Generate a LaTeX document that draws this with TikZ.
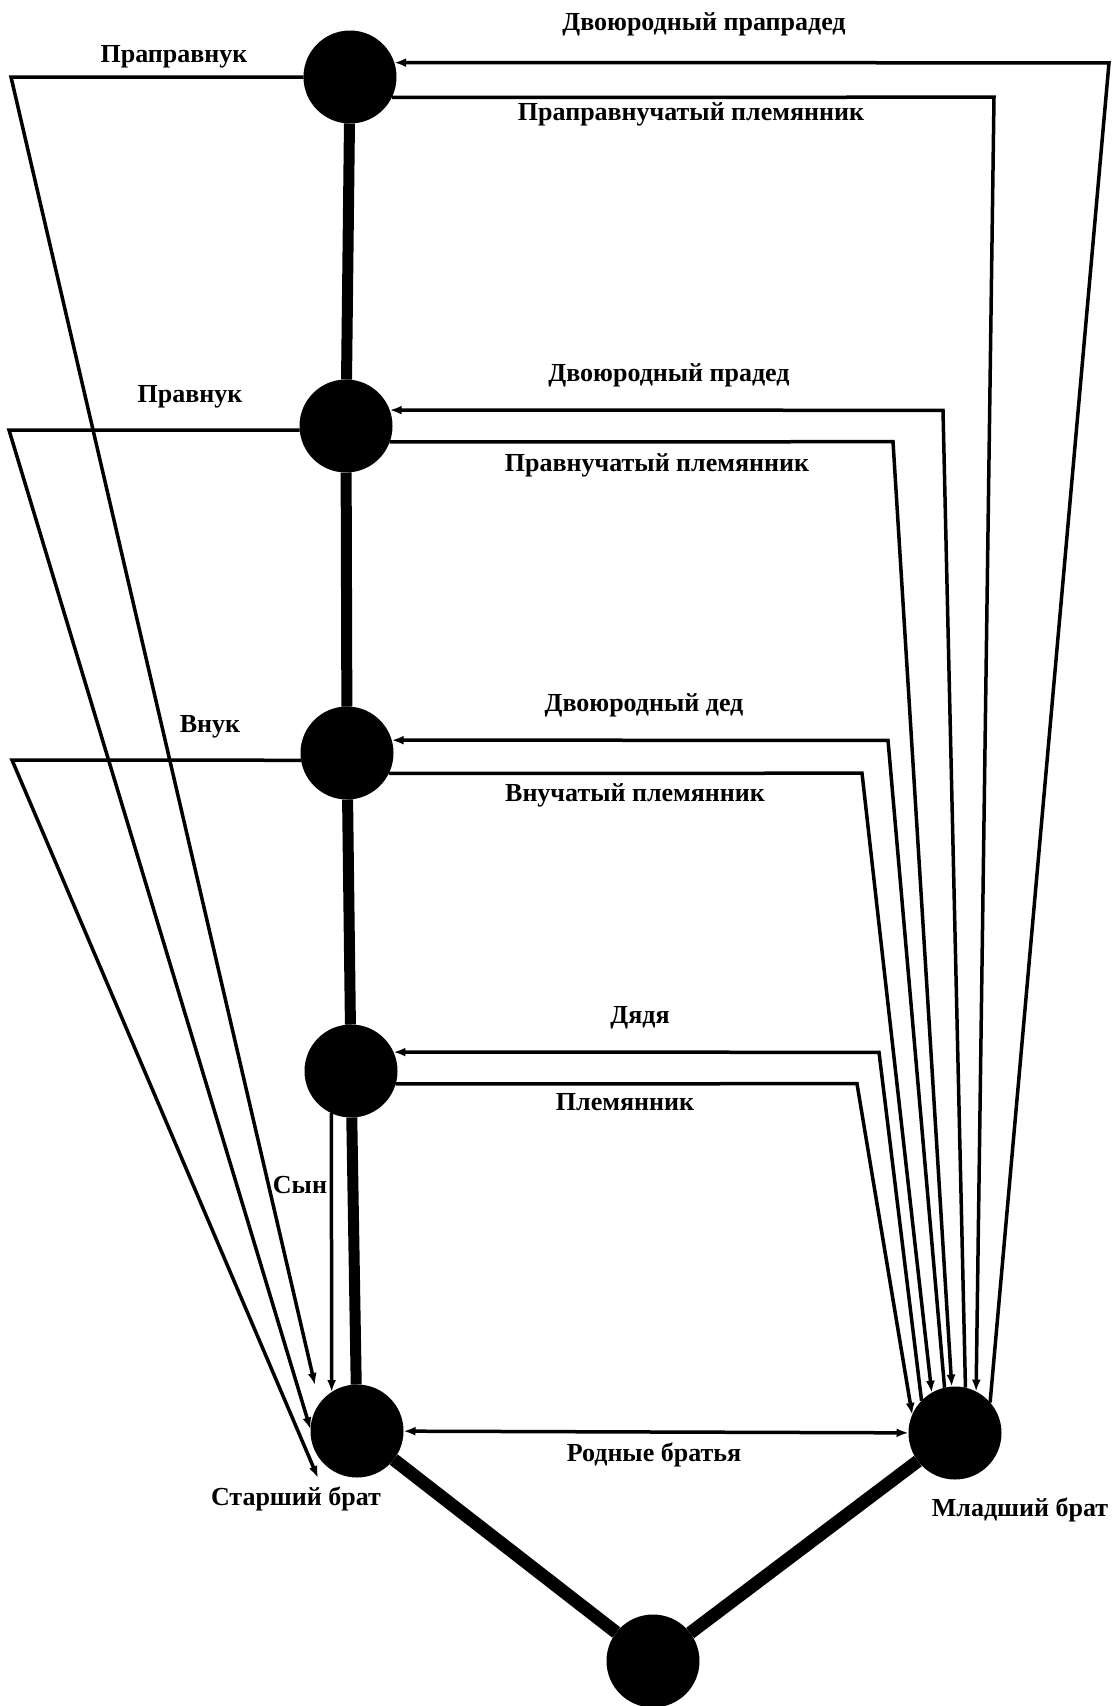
\documentclass[tikz,border=0pt]{standalone}
\usepackage{fontspec}
\setmainfont{Liberation Serif}
\usetikzlibrary{arrows.meta}
\tikzset{
	dot/.style={circle,fill,inner sep=0pt,outer sep=0pt,minimum size=93pt},
	rel/.style={line width=3.5pt},
	tip/.style={-{Latex[length=12pt,width=9pt]}},
	trunk/.style={line width=11pt},
	lbl/.style={font=\bfseries\fontsize{26}{31}\selectfont,inner sep=0pt}
}

\begin{document}
\begin{tikzpicture}[x=1pt,y=-1pt]
	\useasboundingbox (0,0) rectangle (1117,1706);

	% generations
	\node [dot] (pp) at (350,77) {};
	\node [dot] (pr) at (346,426) {};
	\node [dot] (vn) at (347,753) {};
	\node [dot] (syn) at (351,1071) {};
	\node [dot] (st) at (357,1431) {};
	\node [dot] (ml) at (955,1433) {};
	\node [dot] (ot) at (653,1661) {};

	\draw [trunk] (pp) -- (pr) -- (vn) -- (syn) -- (st);
	\draw [line width=13pt] (st) -- (ot) -- (ml);

	% left side
	\coordinate (lpp) at (11,77);
	\coordinate (epp) at (315,1385);
	\coordinate (lpr) at (9,430);
	\coordinate (lvn) at (12,760);
	\coordinate (evn) at (318,1478);
	\draw [rel,tip] (pp.west) -- (lpp) -- (epp);
	\draw [rel,tip] (pr.185) -- (lpr) -- (st.178);
	\draw [rel,tip] (vn.189) -- (lvn) -- (evn);
	\draw [rel,tip] (syn.245) -- (st.123);

	% right side
	\coordinate (c4u) at (1109,62.8);
	\coordinate (c4l) at (994,97.2);
	\coordinate (c3u) at (943,410.3);
	\coordinate (c3l) at (893,441.7);
	\coordinate (c2u) at (888,740.3);
	\coordinate (c2l) at (862,773.2);
	\coordinate (c1u) at (879,1052.3);
	\coordinate (c1l) at (857,1083.7);
	\draw [rel,tip] (ml.41) -- (c4u) -- (pp.18);
	\draw [rel,tip] (pp.-26) -- (c4l) -- (ml.63);
	\draw [rel,tip] (ml.77) -- (c3u) -- (pr.20);
	\draw [rel,tip] (pr.-20) -- (c3l) -- (ml.94);
	\draw [rel,tip] (ml.103) -- (c2u) -- (vn.16);
	\draw [rel,tip] (vn.-26) -- (c2l) -- (ml.120);
	\draw [rel,tip] (ml.136) -- (c1u) -- (syn.24);
	\draw [rel,tip] (syn.-16) -- (c1l) -- (ml.157);

	\draw [rel,{Latex[length=12pt,width=9pt]}-{Latex[length=12pt,width=9pt]}] (st) -- (ml);

	% labels
	\node [lbl] (tpp) at (174,57) {Праправнук};
	\node [lbl] (tpr) at (190,397) {Правнук};
	\node [lbl] (tvn) at (210,727) {Внук};
	\node [lbl] (tsyn) at (300,1185) {Сын};
	\node [lbl] (d4) at (704,24) {Двоюродный прапрадед};
	\node [lbl] (p4) at (691,114) {Праправнучатый племянник};
	\node [lbl] (d3) at (669,375) {Двоюродный прадед};
	\node [lbl] (p3) at (657,465) {Правнучатый племянник};
	\node [lbl] (d2) at (644,705) {Двоюродный дед};
	\node [lbl] (p2) at (635,795) {Внучатый племянник};
	\node [lbl] (d1) at (640,1018) {Дядя};
	\node [lbl] (p1) at (625,1102) {Племянник};
	\node [lbl] (tbr) at (654,1455) {Родные братья};
	\node [lbl] (tst) at (296,1499) {Старший брат};
	\node [lbl] (tml) at (1020,1510) {Младший брат};
\end{tikzpicture}
\end{document}
